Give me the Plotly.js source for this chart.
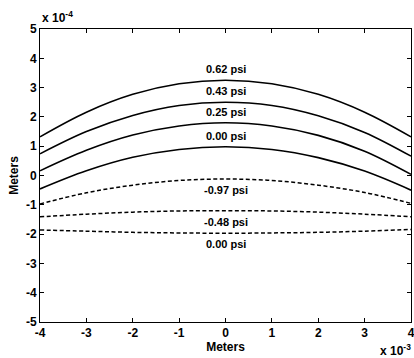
<!DOCTYPE html>
<html>
<head>
<meta charset="utf-8">
<script src="https://cdn.plot.ly/plotly-3.0.1.min.js"></script>
<style>html,body{margin:0;padding:0;background:#fff;}</style>
</head>
<body>
<div id="chart" style="width:414px;height:358px;"></div>
<script>
// x positions (units of 1e-3 m)
const xPos = [-4, -3, -2, -1, 0, 1, 2, 3, 4];
// deflection curves (units of 1e-4 m)
const solid062 = [1.32, 2.16, 2.77, 3.13, 3.25, 3.13, 2.77, 2.16, 1.32];
const solid043 = [0.74, 1.50, 2.05, 2.39, 2.50, 2.39, 2.04, 1.47, 0.66];
const solid025 = [0.16, 0.86, 1.38, 1.69, 1.80, 1.69, 1.37, 0.83, 0.04];
const solid000 = [-0.46, 0.16, 0.62, 0.89, 0.98, 0.89, 0.61, 0.15, -0.50];
const dashNeg097 = [-0.97, -0.59, -0.33, -0.17, -0.12, -0.17, -0.33, -0.58, -0.95];
const dashNeg048 = [-1.41, -1.32, -1.25, -1.21, -1.20, -1.21, -1.25, -1.32, -1.41];
const dash000 = [-1.86, -1.90, -1.94, -1.96, -1.97, -1.96, -1.94, -1.90, -1.84];

const solidSeries = [solid062, solid043, solid025, solid000];
const dashedSeries = [dashNeg097, dashNeg048, dash000];
const solidLabels = ['0.62 psi', '0.43 psi', '0.25 psi', '0.00 psi'];
const dashedLabels = ['-0.97 psi', '-0.48 psi', '0.00 psi'];

const xTicks = [-4, -3, -2, -1, 0, 1, 2, 3, 4];
const xTickText = ['-4', '-3', '-2', '-1', '0', '1', '2', '3', '4'];
const yTicks = [-5, -4, -3, -2, -1, 0, 1, 2, 3, 4, 5];
const yTickText = ['-5', '-4', '-3', '-2', '-1', '0', '1', '2', '3', '4', '5'];

const FONT = 'Liberation Sans, Arial, Helvetica, sans-serif';

const traces = [];
solidSeries.forEach(s => traces.push({
  x: xPos, y: s, type: 'scatter', mode: 'lines',
  line: {color: '#000', width: 1.6, shape: 'spline'},
  hoverinfo: 'skip', showlegend: false
}));
dashedSeries.forEach(s => traces.push({
  x: xPos, y: s, type: 'scatter', mode: 'lines',
  line: {color: '#000', width: 1.5, shape: 'spline', dash: '4px,2.5px'},
  hoverinfo: 'skip', showlegend: false
}));

const centerIdx = xPos.indexOf(0);
const annotations = [];
solidSeries.forEach((s, i) => annotations.push({
  x: xPos[centerIdx], y: s[centerIdx], xref: 'x', yref: 'y',
  text: solidLabels[i], showarrow: false, yshift: 11,
  font: {family: FONT, size: 11, color: '#000', weight: 'bold'}
}));
dashedSeries.forEach((s, i) => annotations.push({
  x: xPos[centerIdx], y: s[centerIdx], xref: 'x', yref: 'y',
  text: dashedLabels[i], showarrow: false, yshift: -11,
  font: {family: FONT, size: 11, color: '#000', weight: 'bold'}
}));
annotations.push({
  x: 0, y: 1, xref: 'paper', yref: 'paper', xanchor: 'left', yanchor: 'bottom',
  yshift: 2, text: 'x 10<sup>-4</sup>', showarrow: false,
  font: {family: FONT, size: 12, color: '#000', weight: 'bold'}
});
annotations.push({
  x: 1, y: 0, xref: 'paper', yref: 'paper', xanchor: 'right', yanchor: 'top',
  yshift: -18, xshift: 2, text: 'x 10<sup>-3</sup>', showarrow: false,
  font: {family: FONT, size: 12, color: '#000', weight: 'bold'}
});

const axisCommon = {
  showline: true, linecolor: '#000', linewidth: 1, mirror: 'ticks',
  ticks: 'inside', ticklen: 4, tickcolor: '#000', tickwidth: 1,
  showgrid: false, zeroline: false, tickmode: 'array',
  ticklabeloverflow: 'allow',
  tickfont: {family: FONT, size: 12, color: '#000', weight: 'bold'}
};

const layout = {
  width: 414, height: 358,
  margin: {l: 40, r: 3, t: 29, b: 36},
  paper_bgcolor: '#fff', plot_bgcolor: '#fff',
  xaxis: Object.assign({}, axisCommon, {
    range: [-4, 4], tickvals: xTicks, ticktext: xTickText,
    title: {text: 'Meters', standoff: 2, font: {family: FONT, size: 12, color: '#000', weight: 'bold'}}
  }),
  yaxis: Object.assign({}, axisCommon, {
    range: [-5, 5], tickvals: yTicks, ticktext: yTickText,
    title: {text: 'Meters', standoff: 4, font: {family: FONT, size: 12, color: '#000', weight: 'bold'}}
  }),
  annotations: annotations
};

Plotly.newPlot('chart', traces, layout, {staticPlot: true, displayModeBar: false});
</script>
</body>
</html>
